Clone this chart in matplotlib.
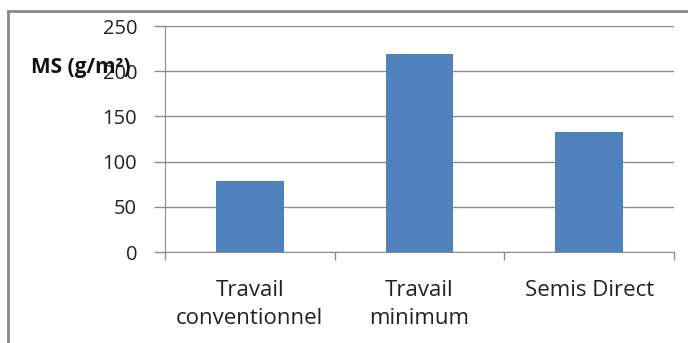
import matplotlib
matplotlib.use("Agg")
import matplotlib.pyplot as plt
from matplotlib.lines import Line2D
import numpy as np

categories = ["Travail\nconventionnel", "Travail\nminimum", "Semis Direct"]
ms_values = [79, 219, 133]
y_ticks = [0, 50, 100, 150, 200, 250]

W, H = 688, 343
plt.rcParams['font.family'] = ['Open Sans', 'DejaVu Sans']

fig = plt.figure(figsize=(W / 100, H / 100), dpi=100)
ax = fig.add_axes([165 / W, 1 - 252 / H, (674 - 165) / W, (252 - 26) / H])

x = np.arange(len(categories))
ax.bar(x, ms_values, width=0.4, color="#4F81BD", zorder=3)

ax.set_xlim(-0.5, len(categories) - 0.5)
ax.set_ylim(0, 250)
ax.set_yticks(y_ticks)
ax.set_yticklabels([str(t) for t in y_ticks])

# category ticks sit on the boundaries, labels centred under the bars
ax.set_xticks(np.arange(len(categories) + 1) - 0.5)
ax.set_xticklabels([])
ax.set_xticks(x, minor=True)
ax.set_xticklabels(categories, minor=True, fontsize=16, color="#222222",
                   linespacing=1.45)
ax.tick_params(axis="x", which="minor", length=0, pad=20)
ax.tick_params(axis="x", which="major", length=6, color="#8c8c8c", width=1)
ax.tick_params(axis="y", length=8, color="#8c8c8c", width=1, pad=12,
               labelsize=14.5, labelcolor="#222222")

ax.yaxis.grid(True, color="#8c8c8c", linewidth=1)
ax.set_axisbelow(True)
for side in ["top", "right"]:
    ax.spines[side].set_visible(False)
ax.spines["left"].set_color("#8c8c8c")
ax.spines["bottom"].set_color("#8c8c8c")

# y label drawn as Excel does: horizontal, over the 200 tick
fig.text(31 / W, 1 - 67 / H, "MS (g/m²)", fontsize=15, fontweight="bold",
         ha="left", va="center", color="#111111")

# chart area border (only left and top visible in crop)
fig.add_artist(Line2D([8 / W, 8 / W], [0, 1 - 11 / H], color="#888888", lw=2))
fig.add_artist(Line2D([8 / W, 1], [1 - 11 / H, 1 - 11 / H], color="#888888", lw=2))

fig.savefig("out.png", dpi=100)
